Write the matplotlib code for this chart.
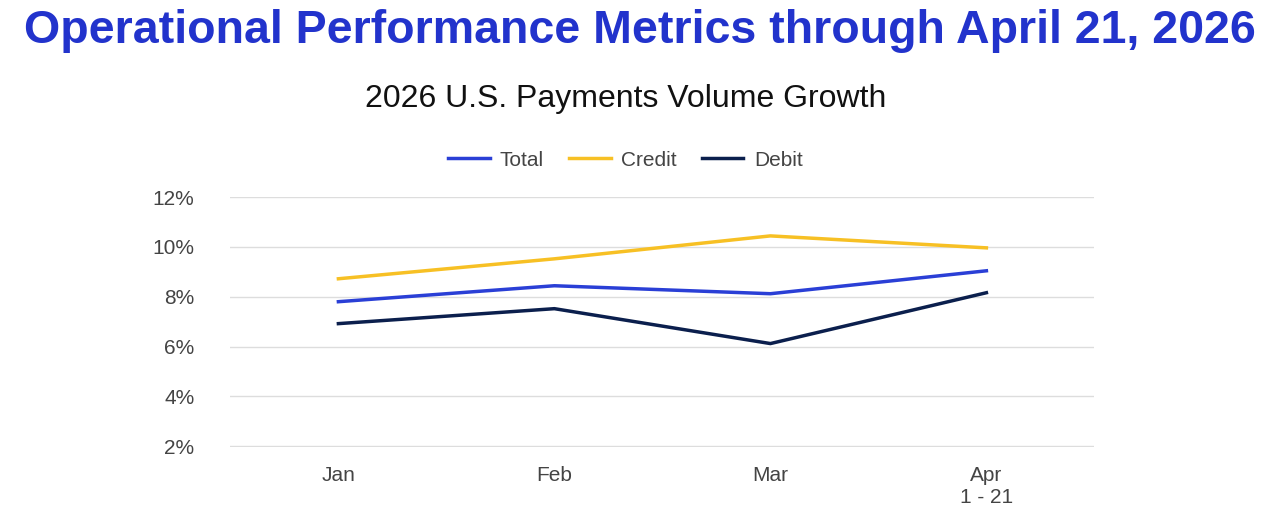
import matplotlib
matplotlib.use("Agg")
import matplotlib.pyplot as plt

plt.rcParams['font.family'] = ['Liberation Sans', 'DejaVu Sans']

months = ["Jan", "Feb", "Mar", "Apr\n1 - 21"]
total = [7.8, 8.44, 8.12, 9.04]
credit = [8.72, 9.52, 10.44, 9.96]
debit = [6.92, 7.52, 6.12, 8.16]
yticks = [2, 4, 6, 8, 10, 12]

fig = plt.figure(figsize=(12.8, 5.23), dpi=100)
ax = fig.add_axes([0.18, 0.1453, 0.675, 0.4780])
x = range(len(months))
ax.plot(x, total, color="#2a3fd6", lw=2.5, label="Total")
ax.plot(x, credit, color="#f7c024", lw=2.5, label="Credit")
ax.plot(x, debit, color="#0b1f4d", lw=2.5, label="Debit")
ax.set_xlim(-0.5, 3.5)
ax.set_ylim(1.97, 12)
ax.set_yticks(yticks)
ax.set_yticklabels([f"{v}%" for v in yticks])
ax.set_xticks(list(x))
ax.set_xticklabels(months)
ax.grid(axis="y", color="#dddddd", lw=1)
ax.set_axisbelow(True)
for s in ax.spines.values():
    s.set_visible(False)
ax.tick_params(length=0, labelsize=15, colors="#444444", pad=14)
ax.tick_params(axis="y", pad=26)
ax.legend(loc="lower center", bbox_to_anchor=(0.457, 1.035), ncol=3, frameon=False,
          fontsize=15, handlelength=2.0, columnspacing=1.2, handletextpad=0.5,
          labelcolor="#444444")
fig.text(0.5, 0.94, "Operational Performance Metrics through April 21, 2026",
         ha="center", va="center", fontsize=33.5, fontweight="bold", color="#2233cc")
fig.text(0.489, 0.81, "2026 U.S. Payments Volume Growth", ha="center", va="center",
         fontsize=23, color="#111111")
fig.savefig("out.png", dpi=100)
